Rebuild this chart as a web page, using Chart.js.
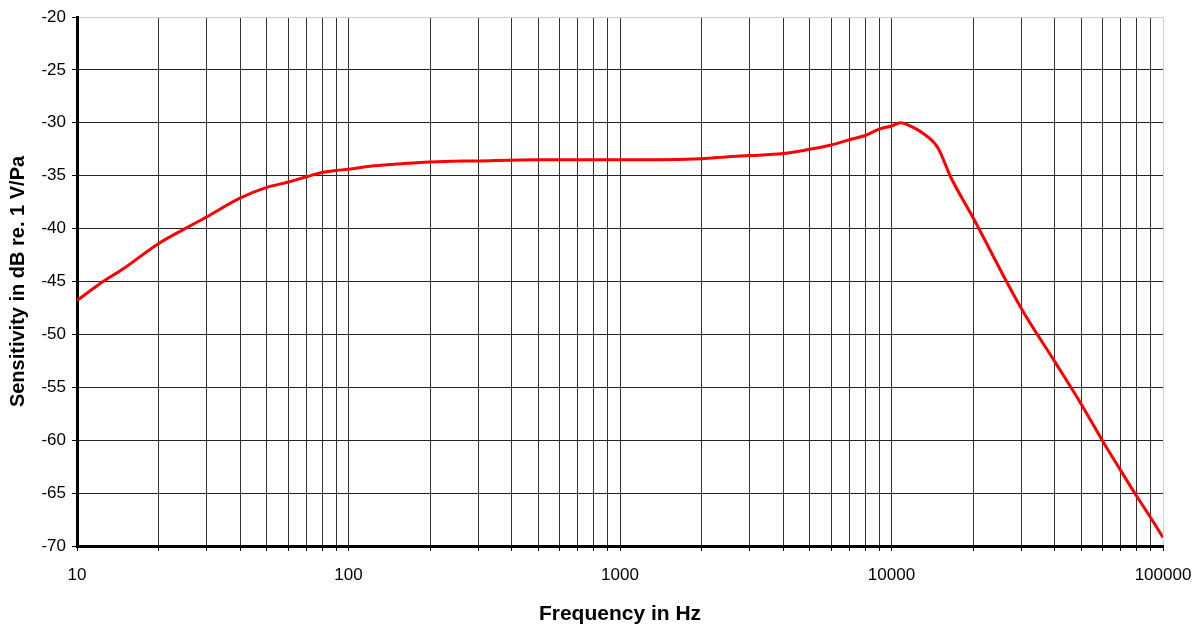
<!DOCTYPE html>
<html>
<head>
<meta charset="utf-8">
<script src="https://cdn.jsdelivr.net/npm/chart.js@4"></script>
<style>
  html, body { margin: 0; padding: 0; background: #fff; }
  #wrap { width: 1202px; height: 631px; }
</style>
</head>
<body>
<div id="wrap"><canvas id="myChart" width="1202" height="631"></canvas></div>
<script>
"use strict";

// frequency response
const freqs = [10, 12, 15, 20, 25, 30, 40, 50, 60, 70, 80, 90, 100, 120, 150, 200, 300, 500,
    1000, 2000, 2500, 3000, 4000, 5000, 6000, 7000, 8000, 9000, 10000, 10800, 11700, 12900,
    14850, 16500, 20000, 30000, 40000, 50000, 60000, 70000, 80000, 90000, 100000]
const sensitivity = [-46.8, -45.3, -43.7, -41.4, -40.0, -38.9, -37.1, -36.1, -35.6, -35.1, -34.7, -34.5, -34.4, -34.1, -33.9, -33.7, -33.6, -33.5,
    -33.5, -33.4, -33.2, -33.1, -32.9, -32.5, -32.1, -31.6, -31.2, -30.6, -30.3, -30.0, -30.3, -30.9,
    -32.4, -35.1, -39.0, -47.5, -52.6, -56.6, -60.1, -62.9, -65.3, -67.3, -69.2]

const xTicks = [10, 20, 30, 40, 50, 60, 70, 80, 90,
    100, 200, 300, 400, 500, 600, 700, 800, 900,
    1000, 2000, 3000, 4000, 5000, 6000, 7000, 8000, 9000,
    10000, 20000, 30000, 40000, 50000, 60000, 70000, 80000, 90000, 100000]
const xLabels = [10, 100, 1000, 10000, 100000]
const yTicks = [-70, -65, -60, -55, -50, -45, -40, -35, -30, -25, -20]

const points = freqs.map((f, i) => ({ x: f, y: sensitivity[i] }))

new Chart("myChart", {
    type: 'line',
    data: {
        datasets: [{
            data: points,
            borderColor: '#ff0000',
            borderWidth: 3,
            pointRadius: 0,
            cubicInterpolationMode: 'monotone',
            fill: false
        }]
    },
    options: {
        responsive: false,
        animation: false,
        layout: { padding: { top: 17, right: 39, left: 0, bottom: 0 } },
        plugins: { legend: { display: false }, tooltip: { enabled: false } },
        scales: {
            x: {
                type: 'logarithmic',
                min: 10,
                max: 100000,
                afterBuildTicks: (scale) => { scale.ticks = xTicks.map(v => ({ value: v })) },
                afterFit: (scale) => {
                    scale.height = 85
                    scale.paddingLeft = 0
                    scale.paddingRight = 0
                },
                ticks: {
                    autoSkip: false,
                    maxRotation: 0,
                    color: '#000',
                    font: { family: 'Liberation Sans, Arial', size: 17 },
                    padding: 14,
                    callback: (v) => xLabels.includes(v) ? String(v) : ''
                },
                grid: {
                    color: (c) => c.tick && c.tick.value === 100000 ? '#d0d0d0' : '#333',
                    lineWidth: 1,
                    tickLength: 5,
                    tickColor: '#000'
                },
                border: { color: '#000', width: 3 },
                title: {
                    display: true,
                    text: 'Frequency in Hz',
                    color: '#000',
                    font: { family: 'Liberation Sans, Arial', size: 21, weight: 'bold' },
                    padding: { top: 1 }
                }
            },
            y: {
                type: 'linear',
                min: -70,
                max: -20,
                afterBuildTicks: (scale) => { scale.ticks = yTicks.map(v => ({ value: v })) },
                afterFit: (scale) => { scale.width = 77 },
                ticks: {
                    color: '#000',
                    font: { family: 'Liberation Sans, Arial', size: 17 },
                    padding: 6
                },
                grid: {
                    color: (c) => c.tick && c.tick.value === -20 ? '#d0d0d0' : '#222',
                    lineWidth: 1,
                    tickLength: 5,
                    tickColor: '#000'
                },
                border: { color: '#000', width: 3 },
                title: {
                    display: true,
                    text: 'Sensitivity in dB re. 1 V/Pa',
                    color: '#000',
                    font: { family: 'Liberation Sans, Arial', size: 20, weight: 'bold' },
                    padding: { bottom: 0, top: 6 }
                }
            }
        }
    }
})
</script>
</body>
</html>
